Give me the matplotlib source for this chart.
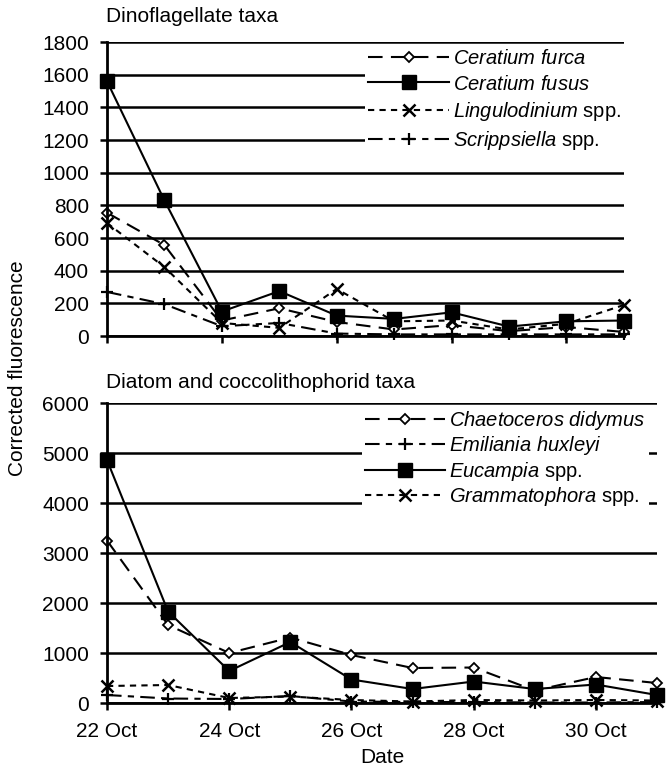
import matplotlib
matplotlib.use("Agg")
import matplotlib.pyplot as plt

plt.rcParams['font.family'] = ['Liberation Sans', 'DejaVu Sans']
plt.rcParams['mathtext.fontset'] = 'custom'
plt.rcParams['mathtext.rm'] = 'Liberation Sans'
plt.rcParams['mathtext.it'] = 'Liberation Sans:italic'

# Días de muestreo (octubre)
dias = [22, 23, 24, 25, 26, 27, 28, 29, 30, 31]
ticks_x = [22, 24, 26, 28, 30]
etiquetas_x = ['22 Oct', '24 Oct', '26 Oct', '28 Oct', '30 Oct']

# Dinoflagelados
ceratium_furca = [755, 557, 95, 170, 86, 40, 67, 30, 55, 25]
ceratium_fusus = [1560, 830, 150, 275, 125, 105, 145, 58, 90, 95]
lingulodinium = [692, 422, 80, 50, 288, 90, 95, 40, 75, 190]
scrippsiella = [270, 195, 60, 80, 15, 10, 10, 10, 10, 10]

# Diatomeas y cocolitofóridos
chaetoceros = [3250, 1560, 1000, 1310, 960, 700, 710, 250, 520, 400]
emiliania = [160, 90, 80, 140, 30, 20, 20, 10, 10, 20]
eucampia = [4860, 1830, 640, 1220, 470, 280, 430, 280, 370, 160]
grammatophora = [340, 360, 100, 130, 60, 30, 60, 50, 60, 50]

tam = 15

fig = plt.figure(figsize=(6.67, 7.70), dpi=100)
ax1 = fig.add_axes([0.1604, 0.5636, 0.775, 0.3818])
ax2 = fig.add_axes([0.1604, 0.0870, 0.8246, 0.3896])

estilo_furca = dict(color='black', lw=1.5, ls=(0, (7, 4)), marker='D', ms=5.5,
                    mfc='white', mec='black', mew=1.3, clip_on=False)
estilo_fusus = dict(color='black', lw=1.5, ls='-', marker='s', ms=9.5,
                    mfc='black', mec='black', clip_on=False)
estilo_x = dict(color='black', lw=1.5, ls=(0, (3, 2.5)), marker='x', ms=8,
                mew=1.8, clip_on=False)
estilo_mas = dict(color='black', lw=1.5, ls=(0, (7, 3, 3, 3)), marker='+', ms=9,
                  mew=1.6, clip_on=False)

ax1.plot(dias, ceratium_furca, label=r'$\it{Ceratium\ furca}$', **estilo_furca)
ax1.plot(dias, ceratium_fusus, label=r'$\it{Ceratium\ fusus}$', **estilo_fusus)
ax1.plot(dias, lingulodinium, label=r'$\it{Lingulodinium}$ spp.', **estilo_x)
ax1.plot(dias, scrippsiella, label=r'$\it{Scrippsiella}$ spp.', **estilo_mas)

ax2.plot(dias, chaetoceros, label=r'$\it{Chaetoceros\ didymus}$', **estilo_furca)
ax2.plot(dias, emiliania, label=r'$\it{Emiliania\ huxleyi}$', **estilo_mas)
ax2.plot(dias, eucampia, label=r'$\it{Eucampia}$ spp.', **estilo_fusus)
ax2.plot(dias, grammatophora, label=r'$\it{Grammatophora}$ spp.', **estilo_x)

config = [(ax1, 1800, 200, (1.0, 0.985), 0.3),
          (ax2, 6000, 1000, (0.985, 0.99), 0.12)]
for ax, ymax, paso, anclaje, espacio in config:
    ax.set_xlim(22, 31)
    ax.set_ylim(0, ymax)
    ax.set_yticks(range(0, ymax + 1, paso))
    ax.set_xticks(ticks_x)
    ax.yaxis.grid(True, color='black', lw=1.8)
    ax.set_axisbelow(True)
    for lado in ['top', 'right']:
        ax.spines[lado].set_visible(False)
    ax.spines['left'].set_linewidth(2)
    ax.spines['bottom'].set_linewidth(2)
    ax.tick_params(axis='both', direction='out', length=5, width=1.8, labelsize=tam)
    ax.tick_params(axis='y', pad=8)
    ax.tick_params(axis='x', pad=9)
    leg = ax.legend(loc='upper right', bbox_to_anchor=anclaje, frameon=True,
                    fontsize=tam - 0.5, handlelength=4.0, labelspacing=espacio,
                    borderpad=0.15, handletextpad=0.2, borderaxespad=0)
    leg.get_frame().set_edgecolor('none')
    leg.get_frame().set_facecolor('white')
    leg.get_frame().set_alpha(1)

ax1.set_xticklabels([])
ax2.set_xticklabels(etiquetas_x)
ax2.set_xlabel('Date', fontsize=tam, labelpad=5)

fig.text(106 / 667, 1 - 17 / 770, 'Dinoflagellate taxa', fontsize=tam, va='center')
fig.text(106 / 667, 1 - 382 / 770, 'Diatom and coccolithophorid taxa', fontsize=tam, va='center')
fig.text(18 / 667, 1 - 368 / 770, 'Corrected fluorescence', fontsize=tam,
         rotation=90, va='center', ha='center')

fig.savefig('out.png', dpi=100)
